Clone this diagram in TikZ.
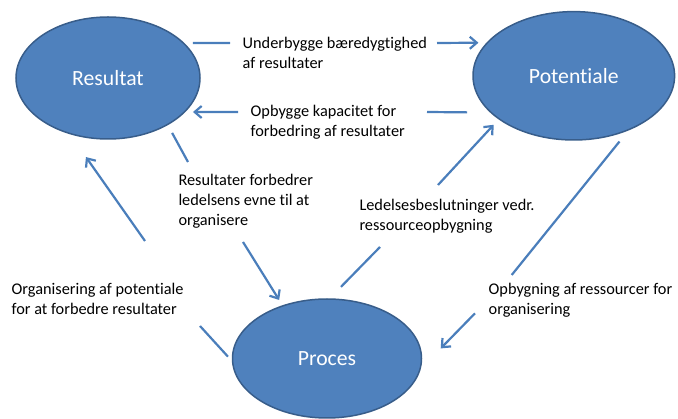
\documentclass[tikz,border=0pt]{standalone}
\usepackage{fontspec}
\setmainfont{Carlito}[Ligatures=NoCommon]
\usetikzlibrary{arrows.meta,shapes.geometric}
\definecolor{ellfill}{HTML}{4F81BD}
\definecolor{elldraw}{HTML}{385D8A}
\definecolor{connc}{HTML}{4A7EBB}
\begin{document}
\begin{tikzpicture}[x=1pt,y=-1pt,
  ell/.style={ellipse, draw=elldraw, line width=1.5pt, fill=ellfill, inner sep=0pt, outer sep=0pt, text=white, font=\fontsize{21.7}{26}\selectfont},
  conn/.style={draw=connc, line width=2.2pt},
  arrowed/.style={-{Straight Barb[length=7pt,width=12pt]}},
  lbl/.style={anchor=base west, inner sep=0pt, font=\fontsize{16.3}{20}\selectfont, text=black}
]
\useasboundingbox (0,0) rectangle (678,419);

% ellipses
\node[ell, minimum width=184pt, minimum height=122pt] (res) at (108,78) {Resultat};
\node[ell, minimum width=201.6pt, minimum height=128.4pt] (pot) at (573.8,75.8) {Potentiale};
\node[ell, minimum width=189pt, minimum height=119pt] (proc) at (327,358.5) {Proces};

% labels
\node[lbl] (t1) at (242.5,48.5) {\vtop{\hbox{Underbygge bæredygtighed}\hbox{af resultater}}};
\node[lbl] (t2) at (250.5,117) {\vtop{\hbox{Opbygge kapacitet for}\hbox{forbedring af resultater}}};
\node[lbl] (t3) at (178.3,186) {\vtop{\hbox{Resultater forbedrer}\hbox{ledelsens evne til at}\hbox{organisere}}};
\node[lbl] (t4) at (11.5,295) {\vtop{\hbox{Organisering af potentiale}\hbox{for at forbedre resultater}}};
\node[lbl] (t5) at (359.3,211) {\vtop{\hbox{Ledelsesbeslutninger vedr.}\hbox{ressourceopbygning}}};
\node[lbl] (t6) at (488.5,295) {\vtop{\hbox{Opbygning af ressourcer for}\hbox{organisering}}};

% gap coordinates
\coordinate (u1) at (230,43);
\coordinate (u2) at (437,43);
\coordinate (o1) at (427,112);
\coordinate (o2) at (238,112);
\coordinate (r1) at (188,162);
\coordinate (r2) at (243,242);
\coordinate (s1) at (200,326);
\coordinate (s2) at (145,241);
\coordinate (l1) at (380,247);
\coordinate (l2) at (438,185);
\coordinate (b1) at (511.7,275);
\coordinate (b2) at (475,313.3);

% connectors
\draw[conn, shorten <=9.7pt] (res.25) -- (u1);
\draw[conn, arrowed, shorten >=9pt] (u2) -- (pot.159);

\draw[conn, shorten <=24pt] (pot.204) -- (o1);
\draw[conn, arrowed, shorten >=8.6pt] (o2) -- (res.336);

\draw[conn, shorten <=9.6pt] (res.322) -- (r1);
\draw[conn, arrowed, shorten >=7pt] (r2) -- (proc.130);

\draw[conn, shorten <=7pt] (proc.182) -- (s1);
\draw[conn, arrowed, shorten >=29pt] (s2) -- (res.235);

\draw[conn, shorten <=17pt] (proc.88) -- (l1);
\draw[conn, arrowed, shorten >=8pt] (l2) -- (pot.210);

\draw[conn, shorten <=15.6pt] (pot.316) -- (b1);
\draw[conn, arrowed, shorten >=30pt] (b2) -- (proc.353);
\end{tikzpicture}
\end{document}
